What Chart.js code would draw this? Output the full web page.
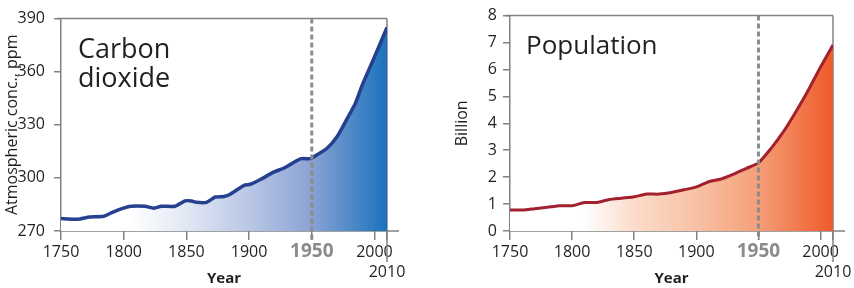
<!DOCTYPE html>
<html>
<head>
<meta charset="utf-8">
<script src="https://cdn.jsdelivr.net/npm/chart.js@4.4.1/dist/chart.umd.min.js"></script>
<style>
  html, body { margin: 0; padding: 0; background: #fff; }
  .wrap { display: flex; width: 854px; height: 288px; }
  .box { position: relative; width: 427px; height: 288px; }
</style>
</head>
<body>
<div class="wrap">
  <div class="box"><canvas id="co2Chart" width="427" height="288"></canvas></div>
  <div class="box"><canvas id="popChart" width="427" height="288"></canvas></div>
</div>
<script>
// values
const co2Years = [1750, 1760, 1765, 1773, 1784, 1790, 1798, 1806, 1817, 1824, 1830, 1841, 1849, 1854, 1858, 1866, 1873, 1880, 1885, 1896, 1901, 1909, 1920, 1928, 1941, 1949, 1954, 1962, 1970, 1978, 1985, 1990, 2000, 2010];
const co2Ppm   = [277.0, 276.7, 276.8, 277.9, 278.3, 280.2, 282.5, 284.0, 284.0, 282.9, 284.0, 284.0, 287.0, 287.0, 286.2, 286.2, 289.2, 289.5, 290.8, 295.8, 296.4, 299.1, 303.4, 305.6, 310.8, 310.9, 313.0, 316.6, 323.1, 333.2, 342.5, 352.0, 368.3, 385.0];

const popYears = [1750, 1760, 1770, 1780, 1790, 1800, 1810, 1820, 1830, 1840, 1850, 1860, 1870, 1880, 1890, 1900, 1910, 1920, 1930, 1940, 1950, 1960, 1970, 1980, 1990, 2000, 2010];
const popBillion = [0.78, 0.78, 0.83, 0.88, 0.94, 0.94, 1.06, 1.06, 1.17, 1.22, 1.27, 1.37, 1.37, 1.43, 1.53, 1.64, 1.83, 1.93, 2.11, 2.32, 2.53, 3.06, 3.68, 4.42, 5.22, 6.09, 6.91];

const xTicks = [1750, 1800, 1850, 1900, 1950, 2000, 2010];
const co2Ticks = [270, 300, 330, 360, 390];
const popTicks = [0, 1, 2, 3, 4, 5, 6, 7, 8];

const FONT = '"Open Sans", "Noto Sans", sans-serif';
const AXIS = '#808285';
const TEXT = '#231f20';

function toPoints(xs, ys){ return xs.map((x, i) => ({ x, y: ys[i] })); }

function makeGradient(ctx, area, x, stops){
  const g = ctx.createLinearGradient(area.left, 0, area.right, 0);
  stops.forEach(s => {
    const t = (x.getPixelForValue(s[0]) - area.left) / (area.right - area.left);
    g.addColorStop(Math.min(1, Math.max(0, t)), s[1]);
  });
  return g;
}

// frame, 1950 marker and big label
const decor = {
  id: 'decor',
  beforeDatasetsDraw(chart, args, opts){
    const { ctx, chartArea: a } = chart;
    ctx.save();
    ctx.strokeStyle = AXIS;
    ctx.lineWidth = 1.5;
    ctx.beginPath();
    ctx.moveTo(a.left - 4, a.top); ctx.lineTo(a.right, a.top);
    ctx.moveTo(a.right, a.top); ctx.lineTo(a.right, a.bottom + 31);
    ctx.moveTo(a.left, a.bottom); ctx.lineTo(a.right + 12, a.bottom);
    ctx.stroke();
    ctx.restore();
  },
  afterDatasetsDraw(chart, args, opts){
    const { ctx, chartArea: a, scales: { x } } = chart;
    const px = x.getPixelForValue(1950);
    ctx.save();
    ctx.strokeStyle = '#8a8c8e';
    ctx.lineWidth = 3;
    ctx.setLineDash([5, 3]);
    ctx.beginPath();
    ctx.moveTo(px, a.top);
    ctx.lineTo(px, a.bottom + 9);
    ctx.stroke();
    ctx.setLineDash([]);
    ctx.fillStyle = TEXT;
    ctx.font = opts.size + 'px ' + FONT;
    ctx.textBaseline = 'alphabetic';
    opts.lines.forEach((t, i) => ctx.fillText(t, a.left + opts.dx, a.top + opts.dy + i * opts.lead));
    ctx.restore();
  }
};

function baseOptions(cfg){
  return {
    responsive: false,
    animation: false,
    layout: { padding: { left: cfg.padLeft, right: cfg.padRight, top: cfg.padTop, bottom: 0 } },
    plugins: {
      legend: { display: false },
      tooltip: { enabled: false },
      decor: cfg.decor
    },
    scales: {
      x: {
        type: 'linear',
        min: 1750, max: 2010,
        afterBuildTicks: s => { s.ticks = xTicks.map(v => ({ value: v })); },
        afterFit: s => { s.height = cfg.xHeight; },
        border: { display: false },
        grid: { drawOnChartArea: false, drawTicks: true, tickLength: 9, color: AXIS, lineWidth: 1.5 },
        ticks: {
          autoSkip: false, maxRotation: 0, padding: 2,
          callback: v => v === 2010 ? ['', '2010'] : String(v),
          color: c => c.tick && c.tick.value === 1950 ? '#8a8c8e' : TEXT,
          font: c => c.tick && c.tick.value === 1950
            ? { family: FONT, size: 19, weight: 'bold', lineHeight: 1.05 }
            : { family: FONT, size: 16, lineHeight: 1.25 }
        },
        title: { display: true, text: 'Year', color: TEXT, font: { family: FONT, size: 15, weight: 'bold' }, padding: { top: 0, bottom: 0 } }
      },
      y: {
        min: cfg.yMin, max: cfg.yMax,
        afterBuildTicks: s => { s.ticks = cfg.yTicks.map(v => ({ value: v })); },
        afterFit: s => { s.width = cfg.yWidth; },
        border: { display: true, color: AXIS, width: 1.5 },
        grid: { drawOnChartArea: false, drawTicks: true, tickLength: 7, color: AXIS, lineWidth: 1.5 },
        ticks: { color: TEXT, padding: cfg.tickPad, font: { family: FONT, size: 16 } },
        title: { display: true, text: cfg.yTitle, color: TEXT, font: { family: FONT, size: 16 }, padding: { top: cfg.titlePad, bottom: 0 } }
      }
    }
  };
}

function renderArea(canvasId, xs, ys, lineColor, stops, cfg){
  const ctx = document.getElementById(canvasId);
  return new Chart(ctx, {
    type: 'line',
    data: {
      datasets: [{
        data: toPoints(xs, ys),
        borderColor: lineColor,
        borderWidth: cfg.lineWidth,
        pointRadius: 0,
        tension: 0.2,
        fill: 'origin',
        backgroundColor: c => {
          const ch = c.chart;
          if(!ch.chartArea) return 'rgba(0,0,0,0)';
          return makeGradient(ch.ctx, ch.chartArea, ch.scales.x, stops);
        }
      }]
    },
    plugins: [decor],
    options: baseOptions(cfg)
  });
}

renderArea('co2Chart', co2Years, co2Ppm, '#24408e',
  [[1750, '#ffffff'], [1805, '#ffffff'], [1850, '#e1e7f4'], [1900, '#b9c7e5'], [1950, '#8aa2d4'], [2010, '#1a72bd']],
  { padLeft: 0, padRight: 40, padTop: 14, xHeight: 57, yWidth: 61, yMin: 270, yMax: 390, yTicks: co2Ticks,
    yTitle: 'Atmospheric conc., ppm', titlePad: 3, tickPad: 9, lineWidth: 3.5,
    decor: { lines: ['Carbon', 'dioxide'], size: 27, dx: 17, dy: 39, lead: 29 } });

renderArea('popChart', popYears, popBillion, '#a3202f',
  [[1750, '#ffffff'], [1808, '#ffffff'], [1850, '#fbdccb'], [1900, '#f8c1a5'], [1950, '#f59f78'], [2010, '#ee5a29']],
  { padLeft: 26, padRight: 21, padTop: 15, xHeight: 57, yWidth: 57, yMin: 0, yMax: 8, yTicks: popTicks,
    yTitle: 'Billion', titlePad: 0, tickPad: 6, lineWidth: 3,
    decor: { lines: ['Population'], size: 26, dx: 16, dy: 38, lead: 29 } });
</script>
</body>
</html>
